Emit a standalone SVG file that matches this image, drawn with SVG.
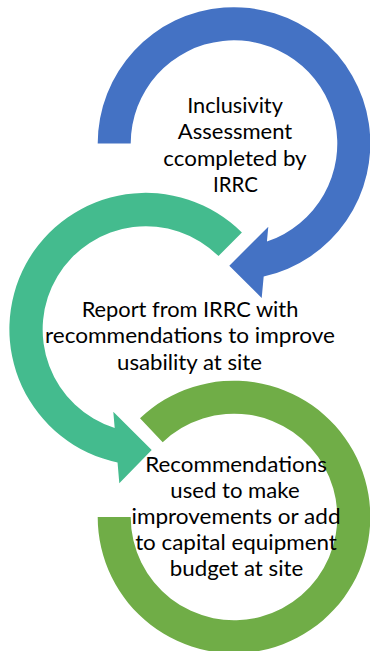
<svg xmlns="http://www.w3.org/2000/svg" width="370" height="651" viewBox="0 0 370 651">
  <style>
    .lbl { font-family: Lato, "Liberation Sans", sans-serif; font-size: 22px; fill: #000000; text-anchor: middle; }
    .blue { fill: #4472C4; }
    .teal { fill: #44BB8E; }
    .lime { fill: #70AD47; }
  </style>
  <rect width="370" height="651" fill="#FFFFFF"/>
  <g id="connectors">
    <path id="arrow-blue" class="blue" d="M 97.7 143.5 A 136.3 136.3 0 1 1 263.69 276.5 L 261.7 298 L 229.3 265.7 L 268.3 226.7 L 266.93 241.5 A 103.3 103.3 0 1 0 130.7 143.5 Z"/>
    <path id="arrow-teal" class="teal" d="M 241.9 232.6 A 136.3 136.3 0 1 0 117.55 462.5 L 119.3 483.3 L 151.7 450 L 113.3 411.7 L 114.7 428 A 103.3 103.3 0 1 1 218.5 256 Z"/>
    <path id="arc-lime" class="lime" d="M 97.7 517 A 136.3 136.3 0 1 0 140 418.3 L 162.7 442.2 A 103.3 103.3 0 1 1 130.7 517 Z"/>
  </g>
  <g id="node-1">
    <text class="lbl" x="235" y="112.5" textLength="95.7" lengthAdjust="spacingAndGlyphs">Inclusivity</text>
    <text class="lbl" x="235" y="139" textLength="114.4" lengthAdjust="spacingAndGlyphs">Assessment</text>
    <text class="lbl" x="235" y="165.5" textLength="143.3" lengthAdjust="spacingAndGlyphs">ccompleted by</text>
    <text class="lbl" x="235.5" y="192" textLength="45" lengthAdjust="spacingAndGlyphs">IRRC</text>
  </g>
  <g id="node-2">
    <text class="lbl" x="190" y="316.7" textLength="216.7" lengthAdjust="spacingAndGlyphs">Report from IRRC with</text>
    <text class="lbl" x="190" y="343.3" textLength="290" lengthAdjust="spacingAndGlyphs">recommendations to improve</text>
    <text class="lbl" x="189.5" y="369.5" textLength="145" lengthAdjust="spacingAndGlyphs">usability at site</text>
  </g>
  <g id="node-3">
    <text class="lbl" x="236" y="472.3" textLength="181.7" lengthAdjust="spacingAndGlyphs">Recommendations</text>
    <text class="lbl" x="235" y="498.3" textLength="129.3" lengthAdjust="spacingAndGlyphs">used to make</text>
    <text class="lbl" x="236" y="524.3" textLength="209" lengthAdjust="spacingAndGlyphs">improvements or add</text>
    <text class="lbl" x="236" y="550" textLength="201.7" lengthAdjust="spacingAndGlyphs">to capital equipment</text>
    <text class="lbl" x="236.5" y="575.8" textLength="133.3" lengthAdjust="spacingAndGlyphs">budget at site</text>
  </g>
</svg>
